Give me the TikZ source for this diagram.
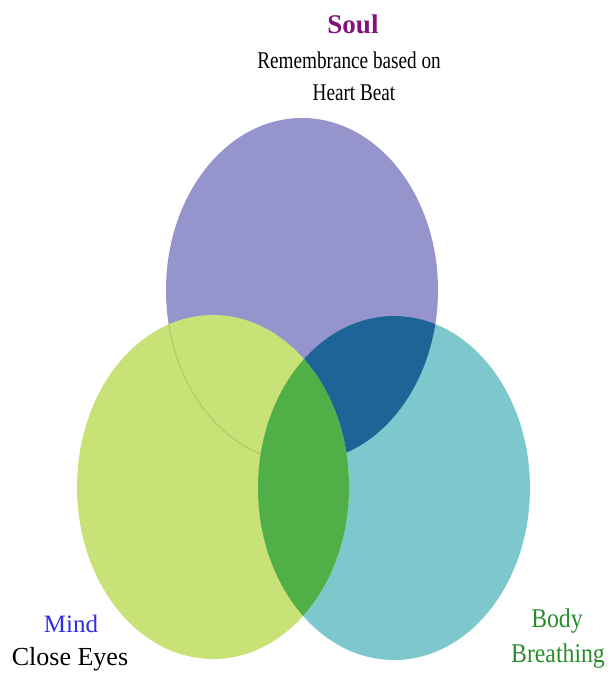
\documentclass[tikz,border=0pt]{standalone}
\usepackage{fontspec}
\setmainfont{Liberation Serif}
\usepackage{tikz}
\usepackage{xcolor}
\definecolor{soulhp}{RGB}{150,148,205}
\definecolor{mindhp}{RGB}{200,226,120}
\definecolor{bodyhp}{RGB}{125,200,205}
\definecolor{soulbodyhp}{RGB}{31,100,150}
\definecolor{mindbodyhp}{RGB}{80,175,70}
\definecolor{mindedge}{RGB}{178,205,105}
\definecolor{soultext}{RGB}{130,20,120}
\definecolor{mindtext}{RGB}{45,45,230}
\definecolor{bodytext}{RGB}{40,140,40}

\begin{document}
\begin{tikzpicture}[x=1pt, y=-1pt, every node/.style={inner sep=0pt, anchor=base}]
        \useasboundingbox (0,0) rectangle (611,675);
        % three ovals: soul on top, mind and body below
        \def\soul{(302,290) ellipse [x radius=136, y radius=172]}
        \def\mind{(213,487) ellipse [x radius=136, y radius=172]}
        \def\body{(394,488) ellipse [x radius=136, y radius=172]}
        \fill[soulhp] \soul;
        \fill[bodyhp] \body;
        \begin{scope}
          \clip \soul;
          \fill[soulbodyhp] \body;
        \end{scope}
        \fill[mindhp] \mind;
        % faint rim of soul seen through mind
        \begin{scope}
          \clip \mind;
          \draw[mindedge, line width=1.3pt] \soul;
        \end{scope}
        \begin{scope}
          \clip \mind;
          \fill[mindbodyhp] \body;
        \end{scope}
        % labels
        \node[font=\fontsize{27}{30}\selectfont\bfseries, text=soultext] (soul) at (353,33) {Soul};
        \node[font=\fontsize{24}{27}\selectfont, xscale=0.8] (soulnote) at (349,68) {Remembrance based on};
        \node[font=\fontsize{24}{27}\selectfont, xscale=0.8] (soulbeat) at (354,100) {Heart Beat};
        \node[font=\fontsize{25}{28}\selectfont, text=mindtext] (mind) at (71,632) {Mind};
        \node[font=\fontsize{26}{29}\selectfont] (mindnote) at (70,665) {Close Eyes};
        \node[font=\fontsize{27}{30}\selectfont, text=bodytext, xscale=0.88] (body) at (557,627) {Body};
        \node[font=\fontsize{27}{30}\selectfont, text=bodytext, xscale=0.88] (bodynote) at (558,662) {Breathing};
      \end{tikzpicture}
\end{document}
